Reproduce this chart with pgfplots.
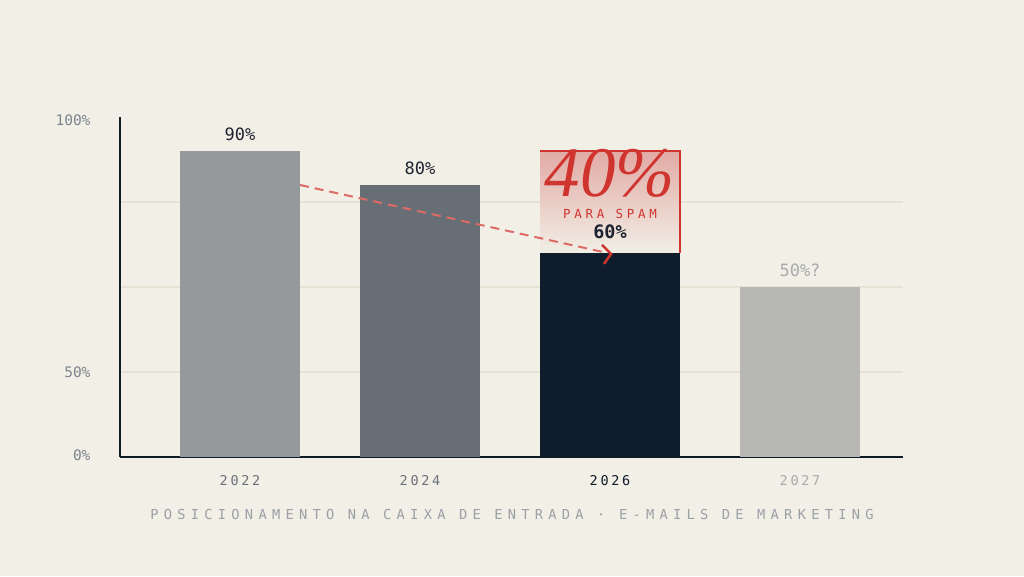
\documentclass[border=0pt]{standalone}
\usepackage{fontspec}
\usepackage{pgfplots}
\pgfplotsset{compat=1.18}
\newfontfamily\mono{DejaVu Sans Mono}
\newfontfamily\monoA[LetterSpace=20]{DejaVu Sans Mono}
\newfontfamily\monoB[LetterSpace=38.5]{DejaVu Sans Mono}
\newfontfamily\monoC[LetterSpace=30]{DejaVu Sans Mono}
\newfontfamily\serifit{Liberation Serif}
\definecolor{bg}{HTML}{F1EFE6}
\definecolor{gridc}{HTML}{E6E2D4}
\definecolor{axisc}{HTML}{101B2A}
\definecolor{barA}{HTML}{96999C}
\definecolor{barB}{HTML}{686E76}
\definecolor{barC}{HTML}{0F1C2B}
\definecolor{barD}{HTML}{B7B8B4}
\definecolor{tickc}{HTML}{7C848E}
\definecolor{yearc}{HTML}{6B717A}
\definecolor{yearl}{HTML}{A8AAAB}
\definecolor{valc}{HTML}{1E2330}
\definecolor{subc}{HTML}{9AA0A6}
\definecolor{redc}{HTML}{D0342F}
\definecolor{redd}{HTML}{DC6B65}
\definecolor{boxtop}{HTML}{E2AAA5}
\begin{document}
\begin{tikzpicture}
\fill[bg] (0,0) rectangle (1024pt,576pt);
\useasboundingbox (0,0) rectangle (1024pt,576pt);
\begin{axis}[
  at={(120pt,119pt)}, anchor=south west,
  scale only axis, width=783pt, height=340pt,
  xmin=120, xmax=903, ymin=0, ymax=100,
  axis x line*=bottom, axis y line*=left,
  axis line style={axisc, line width=2pt, -},
  clip=false,
  major tick length=0pt, minor tick length=0pt,
  ytick={0,25,100},
  yticklabels={\smash{\raisebox{-3.3pt}{0\%}},\smash{\raisebox{-5.3pt}{50\%}},\smash{\raisebox{-8.3pt}{100\%}}},
  minor ytick={25,50,75}, yminorgrids=true,
  minor grid style={gridc, line width=1.5pt},
  yticklabel style={font=\mono\fontsize{14.5}{16}\selectfont, text=tickc, xshift=-26pt},
  xtick={240,420,610,800},
  xticklabels={{\color{yearc}2022},{\color{yearc}2024},{\color{axisc}2026},{\color{yearl}2027}},
  xticklabel style={font=\monoA\fontsize{13.5}{15}\selectfont, yshift=-15pt},
  /pgf/number format/assume math mode=true,
]
\addplot[ybar, bar shift=0pt, bar width=120, fill=barA, draw=none] coordinates {(240,90)};
\addplot[ybar, bar shift=0pt, bar width=120, fill=barB, draw=none] coordinates {(420,80)};
\addplot[ybar, bar shift=0pt, bar width=140, fill=barC, draw=none] coordinates {(610,60)};
\addplot[ybar, bar shift=0pt, bar width=120, fill=barD, draw=none] coordinates {(800,50)};
% spam box
\fill[top color=boxtop, bottom color=bg] (axis cs:540,60) rectangle (axis cs:680,90);
\draw[redc, line width=2pt] (axis cs:540,90) -- (axis cs:680,90) -- (axis cs:680,60);
% dashed arrow
\draw[redd, line width=2pt, dash pattern=on 9pt off 6pt] (axis cs:300,80) -- (axis cs:603,60.3);
\draw[redc, line width=2.5pt] (axis cs:602,62.4) -- (axis cs:611,59.7) -- (axis cs:604,56.8);
% labels
\node[font=\mono\fontsize{17}{19}\selectfont, text=valc] at (axis cs:240,95.0) {90\%};
\node[font=\mono\fontsize{17}{19}\selectfont, text=valc] at (axis cs:420,85.0) {80\%};
\node[font=\mono\bfseries\fontsize{18.5}{20}\selectfont, text=valc] at (axis cs:610,66.2) {60\%};
\node[font=\mono\fontsize{17}{19}\selectfont, text=yearl] at (axis cs:800,55.0) {50\%?};
\node[inner sep=0pt, font=\serifit\itshape\fontsize{71}{72}\selectfont, text=redc] at (axis cs:610,83.3) {40\%};
\node[inner sep=0pt, font=\monoC\fontsize{12.5}{14}\selectfont, text=redc] at (axis cs:610,71.6) {PARA SPAM};
\end{axis}
\node[font=\monoB\fontsize{13.7}{15}\selectfont, text=subc] at (512pt,61pt) {POSICIONAMENTO NA CAIXA DE ENTRADA · E-MAILS DE MARKETING};
\end{tikzpicture}
\end{document}
